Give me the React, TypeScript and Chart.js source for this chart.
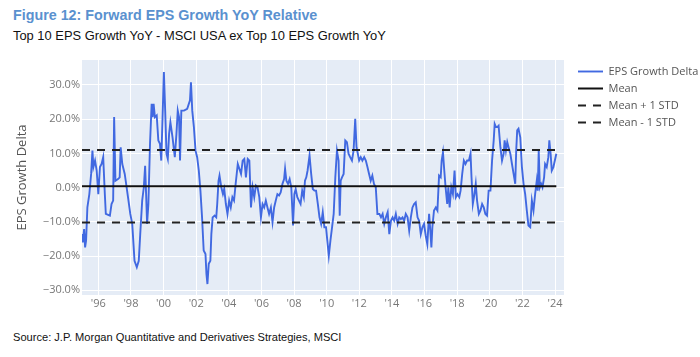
import React, { useEffect, useRef } from "react";
import { Chart, registerables } from "chart.js";

Chart.register(...registerables);

// ---- Data ----
const dates: number[] = [
  1995.0, 1995.05, 1995.13, 1995.19, 1995.25, 1995.33, 1995.45, 1995.56, 1995.64, 1995.7,
  1995.8, 1995.9, 1996.0, 1996.1, 1996.2, 1996.3, 1996.4, 1996.46, 1996.71, 1996.81,
  1996.91, 1996.97, 1997.05, 1997.21, 1997.31, 1997.37, 1997.47, 1997.62, 1997.82, 1997.96,
  1998.08, 1998.22, 1998.36, 1998.48, 1998.57, 1998.69, 1998.79, 1998.87, 1998.93, 1998.99,
  1999.07, 1999.17, 1999.27, 1999.33, 1999.39, 1999.47, 1999.58, 1999.68, 1999.78, 1999.86,
  1999.94, 2000.02, 2000.1, 2000.18, 2000.26, 2000.34, 2000.42, 2000.55, 2000.69, 2000.79,
  2000.87, 2000.95, 2001.01, 2001.09, 2001.25, 2001.45, 2001.62, 2001.68, 2001.76, 2001.86,
  2001.96, 2002.06, 2002.16, 2002.26, 2002.36, 2002.46, 2002.57, 2002.63, 2002.69, 2002.77,
  2002.87, 2002.93, 2003.01, 2003.13, 2003.23, 2003.29, 2003.37, 2003.43, 2003.54, 2003.64,
  2003.72, 2003.82, 2003.92, 2004.02, 2004.12, 2004.22, 2004.32, 2004.42, 2004.55, 2004.75,
  2004.85, 2004.95, 2005.05, 2005.16, 2005.26, 2005.36, 2005.46, 2005.56, 2005.66, 2005.76,
  2005.87, 2005.97, 2006.07, 2006.17, 2006.27, 2006.37, 2006.47, 2006.58, 2006.68, 2006.78,
  2006.88, 2006.98, 2007.08, 2007.18, 2007.29, 2007.39, 2007.45, 2007.53, 2007.63, 2007.73,
  2007.83, 2007.94, 2008.02, 2008.1, 2008.2, 2008.3, 2008.4, 2008.5, 2008.6, 2008.67,
  2008.75, 2008.83, 2008.95, 2009.05, 2009.15, 2009.25, 2009.35, 2009.46, 2009.56, 2009.66,
  2009.76, 2009.86, 2009.96, 2010.04, 2010.13, 2010.23, 2010.33, 2010.43, 2010.53, 2010.63,
  2010.73, 2010.8, 2010.86, 2010.94, 2011.04, 2011.14, 2011.24, 2011.34, 2011.44, 2011.55,
  2011.65, 2011.75, 2011.83, 2011.91, 2011.99, 2012.09, 2012.19, 2012.3, 2012.4, 2012.5,
  2012.6, 2012.7, 2012.8, 2012.9, 2013.01, 2013.11, 2013.23, 2013.33, 2013.43, 2013.53,
  2013.63, 2013.74, 2013.84, 2013.94, 2014.04, 2014.14, 2014.24, 2014.35, 2014.45, 2014.55,
  2014.65, 2014.75, 2014.85, 2014.96, 2015.06, 2015.16, 2015.26, 2015.36, 2015.46, 2015.57,
  2015.67, 2015.77, 2015.87, 2015.97, 2016.07, 2016.17, 2016.28, 2016.34, 2016.42, 2016.48,
  2016.58, 2016.69, 2016.79, 2016.89, 2016.99, 2017.05, 2017.13, 2017.21, 2017.29, 2017.39,
  2017.46, 2017.54, 2017.64, 2017.74, 2017.84, 2017.92, 2018.02, 2018.13, 2018.21, 2018.31,
  2018.41, 2018.51, 2018.61, 2018.72, 2018.82, 2018.88, 2018.96, 2019.06, 2019.14, 2019.22,
  2019.33, 2019.43, 2019.53, 2019.63, 2019.73, 2019.83, 2019.93, 2020.04, 2020.14, 2020.24,
  2020.3, 2020.38, 2020.46, 2020.54, 2020.65, 2020.75, 2020.85, 2020.91, 2020.99, 2021.07,
  2021.15, 2021.26, 2021.36, 2021.46, 2021.56, 2021.62, 2021.68, 2021.76, 2021.87, 2021.97,
  2022.07, 2022.17, 2022.27, 2022.37, 2022.48, 2022.58, 2022.68, 2022.78, 2022.88, 2022.94,
  2023.0, 2023.07, 2023.15, 2023.23, 2023.33, 2023.39, 2023.49, 2023.59, 2023.65, 2023.73,
  2023.8, 2023.9, 2024.08,
];

const epsGrowthDelta: number[] = [
  -13.6, -16.0, -12.1, -17.5, -15.5, -5.8, -1.9, 4.0, 10.8, 6.0,
  7.9, 5.0, -1.9, 6.0, 6.9, 8.9, -1.9, -7.7, -8.2, -4.8,
  -3.8, 20.6, 2.0, 2.5, 3.0, 11.8, 6.9, 4.0, -2.8, -7.7,
  -10.6, -21.4, -23.3, -21.4, -13.6, -3.8, 0.1, 6.4, -1.9, -10.6,
  -4.8, 12.8, 24.5, 20.6, 24.5, 20.6, 21.1, 13.8, 12.8, 7.9,
  20.6, 33.8, 22.5, 9.9, 8.4, 15.7, 19.1, 14.7, 8.9, 15.7,
  22.5, 20.6, 7.9, 22.5, 22.5, 23.0, 25.5, 30.8, 22.5, 17.7,
  10.8, 8.9, 5.0, -0.9, -8.7, -18.4, -19.4, -25.3, -28.2, -22.3,
  -21.4, -13.6, -8.7, -8.2, -8.7, -4.8, 2.0, 3.5, 0.1, -1.9,
  -0.4, -4.8, -7.7, -3.8, -5.8, -2.8, -3.8, 1.1, 6.9, 4.0,
  7.9, 8.4, 3.0, 8.4, 7.9, -5.8, 0.1, -2.8, 0.6, 0.1,
  -2.8, -8.7, -4.8, -5.8, -3.8, -5.8, -7.7, -5.8, -10.1, -5.8,
  -3.8, -1.9, -2.3, -1.4, 1.1, 2.5, 5.5, 2.0, 1.1, 2.5,
  0.1, -11.1, -1.9, -0.4, -2.8, -3.8, -4.8, -0.9, -2.8, 2.0,
  3.0, 5.0, 9.4, 4.0, -0.4, -0.9, -0.9, -4.8, -8.7, -10.6,
  -7.2, -11.6, -11.6, -15.5, -19.9, -15.5, -11.6, -7.7, 3.0, 10.8,
  7.9, -8.2, 2.0, 3.0, 4.0, 13.8, 13.3, 9.9, 8.9, 7.9,
  10.8, 20.1, 11.8, 9.9, 7.9, 8.9, 7.9, 8.9, 7.9, 6.0,
  4.0, 2.0, 3.5, 1.1, 0.1, -7.7, -7.7, -8.7, -7.7, -10.6,
  -8.7, -7.2, -13.6, -9.7, -8.7, -9.7, -7.7, -10.6, -8.7, -9.2,
  -8.7, -9.7, -7.7, -8.7, -12.6, -8.7, -5.8, -4.8, -4.3, -8.7,
  -9.7, -13.6, -11.6, -10.6, -14.0, -16.5, -7.7, -11.6, -17.5, -11.6,
  -6.7, -5.8, -6.7, 3.5, 3.0, 7.9, 10.3, 5.0, 0.1, -4.8,
  0.1, -5.8, 0.1, -1.9, 5.0, -2.8, -1.9, -2.8, -0.9, 4.0,
  7.9, 6.9, 7.9, 7.9, 9.9, 3.0, -4.8, -1.9, 1.1, -3.8,
  -7.7, -6.7, -4.8, -5.8, -7.7, -8.2, -0.9, -0.9, 7.9, 13.8,
  18.6, 17.7, 17.7, 18.1, 11.8, 7.9, 9.9, 13.8, 10.8, 13.3,
  11.8, 9.9, 6.9, 4.0, 1.1, 10.8, 16.7, 17.2, 14.7, 6.0,
  1.1, -1.9, -6.7, -11.1, -11.6, -3.8, -6.7, -1.9, 2.0, -0.9,
  10.8, 0.1, 1.1, 0.1, 3.0, 6.9, 6.0, 8.9, 13.8, 9.9,
  5.0, 6.0, 9.9,
];

const meanValue = 0.4;
const stdValue = 10.6;

const seriesLabels: string[] = ["EPS Growth Delta", "Mean", "Mean + 1 STD", "Mean - 1 STD"];
const xTickYears: number[] = [1996, 1998, 2000, 2002, 2004, 2006, 2008, 2010, 2012, 2014, 2016, 2018, 2020, 2022, 2024];
const yTickValues: number[] = [-30, -20, -10, 0, 10, 20, 30];

const X_MIN = 1995.0;
const X_MAX = 2024.55;
const Y_MIN = -31.4;
const Y_MAX = 37.3;

const PLOT_FONT = "'Open Sans', 'Noto Sans', sans-serif";
const TEXT_FONT = "'Liberation Sans', Arial, sans-serif";

const plotBackground = {
  id: "plotBackground",
  beforeDraw(chart: any) {
    const { ctx, chartArea } = chart;
    if (!chartArea) return;
    ctx.save();
    ctx.fillStyle = "#E5ECF6";
    ctx.fillRect(chartArea.left, chartArea.top, chartArea.right - chartArea.left, chartArea.bottom - chartArea.top);
    ctx.restore();
  },
};

export default function App() {
  const canvasRef = useRef<HTMLCanvasElement | null>(null);

  useEffect(() => {
    if (!canvasRef.current) return;
    const first = dates[0];
    const last = dates[dates.length - 1];
    const hLine = (v: number) => [
      { x: first, y: v },
      { x: last, y: v },
    ];

    const chart = new Chart(canvasRef.current, {
      type: "line",
      data: {
        datasets: [
          {
            label: seriesLabels[0],
            data: dates.map((d, i) => ({ x: d, y: epsGrowthDelta[i] })),
            borderColor: "#4169e1",
            backgroundColor: "#4169e1",
            borderWidth: 1.9,
            pointRadius: 0,
            tension: 0,
            order: 1,
          },
          {
            label: seriesLabels[1],
            data: hLine(meanValue),
            borderColor: "#111111",
            backgroundColor: "#111111",
            borderWidth: 2,
            pointRadius: 0,
            order: 0,
          },
          {
            label: seriesLabels[2],
            data: hLine(meanValue + stdValue),
            borderColor: "#222222",
            backgroundColor: "#222222",
            borderWidth: 2,
            borderDash: [8, 7],
            pointRadius: 0,
            order: 0,
          },
          {
            label: seriesLabels[3],
            data: hLine(meanValue - stdValue),
            borderColor: "#222222",
            backgroundColor: "#222222",
            borderWidth: 2,
            borderDash: [8, 7],
            pointRadius: 0,
            order: 0,
          },
        ] as any,
      },
      options: {
        animation: false,
        responsive: false,
        layout: { padding: { left: 10, top: 10, right: 0, bottom: 0 } },
        plugins: {
          tooltip: { enabled: false },
          legend: {
            position: "right",
            align: "start",
            maxWidth: 128,
            labels: {
              usePointStyle: true,
              pointStyleWidth: 25,
              padding: 6,
              color: "#555",
              font: { family: PLOT_FONT, size: 11 },
              generateLabels: (ch: any) =>
                ch.data.datasets.map((ds: any, i: number) => ({
                  text: ds.label,
                  fillStyle: ds.borderColor,
                  strokeStyle: ds.borderColor,
                  lineWidth: ds.borderWidth,
                  lineDash: ds.borderDash || [],
                  pointStyle: "line",
                  hidden: false,
                  datasetIndex: i,
                  fontColor: "#555",
                })),
            },
          },
        },
        scales: {
          x: {
            type: "linear",
            min: X_MIN,
            max: X_MAX,
            afterBuildTicks: (s: any) => {
              s.ticks = xTickYears.map((v) => ({ value: v }));
            },
            afterFit: (s: any) => {
              s.height = 20;
            },
            ticks: {
              autoSkip: false,
              maxRotation: 0,
              padding: 2,
              color: "#777",
              font: { family: PLOT_FONT, size: 11 },
              callback: (v: any) => "'" + String(v).slice(2),
            },
            grid: { color: "#ffffff", lineWidth: 1, drawTicks: false },
            border: { display: false },
          },
          y: {
            type: "linear",
            min: Y_MIN,
            max: Y_MAX,
            afterBuildTicks: (s: any) => {
              s.ticks = yTickValues.map((v) => ({ value: v }));
            },
            afterFit: (s: any) => {
              s.width = 72;
            },
            ticks: {
              padding: 2,
              color: "#777",
              font: { family: PLOT_FONT, size: 11 },
              callback: (v: any) => (Number(v) < 0 ? "\u2212" : "") + Math.abs(Number(v)).toFixed(1) + "%",
            },
            grid: { color: "#ffffff", lineWidth: 1, drawTicks: false },
            border: { display: false },
            title: {
              display: true,
              text: "EPS Growth Delta",
              color: "#555",
              font: { family: PLOT_FONT, size: 13 },
              padding: { top: 4, bottom: 0 },
            },
          },
          yR: {
            type: "linear",
            position: "right",
            display: true,
            ticks: { display: false },
            grid: { display: false },
            border: { display: false },
            afterFit: (s: any) => {
              s.width = 8;
            },
          },
        },
      } as any,
      plugins: [plotBackground],
    });

    return () => {
      chart.destroy();
    };
  }, []);

  return (
    <div style={{ position: "absolute", left: 0, top: 0, width: 700, height: 357, background: "#ffffff", overflow: "hidden" }}>
      <div
        style={{
          position: "absolute",
          left: 13,
          top: 8,
          fontFamily: TEXT_FONT,
          fontWeight: "bold",
          fontSize: 14.3,
          lineHeight: "14.3px",
          color: "#5a91cf",
          whiteSpace: "nowrap",
        }}
      >
        Figure 12: Forward EPS Growth YoY Relative
      </div>
      <div
        style={{
          position: "absolute",
          left: 13,
          top: 29.7,
          fontFamily: TEXT_FONT,
          fontSize: 12.9,
          lineHeight: "12.9px",
          color: "#111",
          whiteSpace: "nowrap",
        }}
      >
        Top 10 EPS Growth YoY - MSCI USA ex Top 10 EPS Growth YoY
      </div>
      <canvas
        ref={canvasRef}
        width={700}
        height={265}
        style={{ position: "absolute", left: 0, top: 50, width: 700, height: 265 }}
      />
      <div
        style={{
          position: "absolute",
          left: 13,
          top: 331.6,
          fontFamily: TEXT_FONT,
          fontSize: 11.1,
          lineHeight: "11.1px",
          color: "#111",
          whiteSpace: "nowrap",
        }}
      >
        Source: J.P. Morgan Quantitative and Derivatives Strategies, MSCI
      </div>
    </div>
  );
}
